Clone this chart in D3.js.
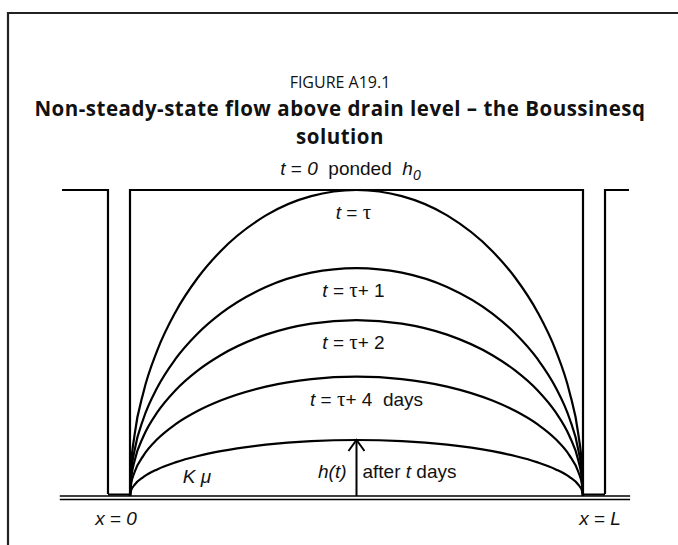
<!DOCTYPE html>
<html>
<head>
<meta charset="utf-8">
<script src="https://cdn.jsdelivr.net/npm/d3@7"></script>
<style>
  body { margin: 0; background: #fff; }
  svg text { white-space: pre; }
  .title { font-family: "Open Sans", "Noto Sans", sans-serif; fill: #111; }
  .lbl { font-family: "Liberation Sans", Arial, sans-serif; font-size: 19px; fill: #111; }
  .greek { font-family: "Liberation Serif", "DejaVu Serif", serif; font-size: 21px; }
</style>
</head>
<body>
<svg id="chart" width="678" height="545"></svg>
<script>
// water table shape between the drains (relative height vs relative distance)
const profileX = [0, 0.002, 0.01, 0.03, 0.06, 0.1, 0.15, 0.2, 0.3, 0.4, 0.5, 0.6, 0.7, 0.8, 0.85, 0.9, 0.94, 0.97, 0.99, 0.998, 1];
const profileH = [0, 0.089, 0.199, 0.341, 0.475, 0.6, 0.714, 0.8, 0.917, 0.98, 1, 0.98, 0.917, 0.8, 0.714, 0.6, 0.475, 0.341, 0.199, 0.089, 0];

// peak height of each curve as a fraction of the ponded depth h0
const curveNames = ['tau', 'tau1', 'tau2', 'tau4', 'tdays'];
const peakHeights = [1.0, 0.745, 0.575, 0.39, 0.183];

// curve labels: [segment, style] with style 1 = italic, 'g' = greek
const curveLabels = [
  [['t', 1], [' = ', 0], ['τ', 'g']],
  [['t', 1], [' = ', 0], ['τ', 'g'], ['+ 1', 0]],
  [['t', 1], [' = ', 0], ['τ', 'g'], ['+ 2', 0]],
  [['t', 1], [' = ', 0], ['τ', 'g'], ['+ 4  days', 0]],
  null
];

// drains and field edges in x/L units
const drainWalls = [-0.0486, 1.0486];
const fieldEnds = [-0.15, 1.1015];
const groundEnds = [-0.155, 1.104];

const svg = d3.select('#chart');

// frame
svg.append('path')
  .attr('d', 'M8,545 V13 H678')
  .attr('fill', 'none')
  .attr('stroke', '#222')
  .attr('stroke-width', 2.2);

// titles
svg.append('text').attr('class', 'title')
  .attr('x', 340).attr('y', 88)
  .attr('text-anchor', 'middle').attr('font-size', 16)
  .text('FIGURE A19.1');
svg.append('text').attr('class', 'title')
  .attr('x', 340).attr('y', 116)
  .attr('text-anchor', 'middle').attr('font-size', 20.5).attr('font-weight', 'bold')
  .attr('letter-spacing', 0.5)
  .text('Non-steady-state flow above drain level – the Boussinesq');
svg.append('text').attr('class', 'title')
  .attr('x', 340).attr('y', 144)
  .attr('text-anchor', 'middle').attr('font-size', 20.5).attr('font-weight', 'bold')
  .attr('letter-spacing', 0.5)
  .text('solution');

const x = d3.scaleLinear().domain([0, 1]).range([130, 583]);
const y = d3.scaleLinear().domain([0, 1]).range([496, 190]);

const g = svg.append('g').attr('stroke', '#000').attr('fill', 'none');

// ponded water surface and soil box
g.append('path')
  .attr('d', `M${x(0)},${y(0)} V${y(1)} H${x(1)} V${y(0)}`)
  .attr('stroke-width', 2.2);

// drain walls with field surface beyond
g.append('path')
  .attr('d', `M${x(fieldEnds[0])},${y(1)} H${x(drainWalls[0])} V${y(0) - 2}`)
  .attr('stroke-width', 2.2);
g.append('path')
  .attr('d', `M${x(fieldEnds[1])},${y(1)} H${x(drainWalls[1])} V${y(0) - 2}`)
  .attr('stroke-width', 2.2);

// drain bottoms
g.append('path')
  .attr('d', `M${x(drainWalls[0])},${y(0) - 1.5} H${x(0)} M${x(1)},${y(0) - 1.5} H${x(drainWalls[1])}`)
  .attr('stroke-width', 2);

// impermeable base: double line
g.append('path')
  .attr('d', `M${x(groundEnds[0])},${y(0)} H${x(groundEnds[1])} M${x(groundEnds[0])},${y(0) + 3.5} H${x(groundEnds[1])}`)
  .attr('stroke-width', 1.6);

// water table curves
const line = d3.line()
  .x(d => x(d[0]))
  .y(d => y(d[1]))
  .curve(d3.curveMonotoneX);

peakHeights.forEach((p, i) => {
  const pts = profileX.map((px, j) => [px, profileH[j] * p]);
  g.append('path')
    .attr('class', 'wt-' + curveNames[i])
    .attr('d', line(pts))
    .attr('stroke-width', 2.2);
});

// h(t) arrow up to the lowest curve
const last = peakHeights[peakHeights.length - 1];
g.append('path')
  .attr('d', `M${x(0.5)},${y(0)} V${y(last)}`)
  .attr('stroke-width', 2);
g.append('path')
  .attr('d', `M${x(0.5) - 8},${y(last) + 11} L${x(0.5)},${y(last)} L${x(0.5) + 8},${y(last) + 11}`)
  .attr('stroke-width', 2);

function richText(parent, xPos, yPos, parts, anchor) {
  const t = parent.append('text').attr('class', 'lbl')
    .attr('x', xPos).attr('y', yPos)
    .attr('text-anchor', anchor || 'middle');
  parts.forEach(p => {
    const s = t.append('tspan').text(p[0]);
    if (p[1] === 'g') s.attr('class', 'greek');
    else if (p[1]) s.attr('font-style', 'italic');
    if (p[2]) s.attr('font-size', 14).attr('dy', p[2]);
  });
  return t;
}

// curve labels sit ~30 px under each peak
curveLabels.forEach((parts, i) => {
  if (!parts) return;
  const lbl = richText(svg, x(0.5) - 3, y(peakHeights[i]) + 29, parts);
  if (i === 3) lbl.attr('text-anchor', 'start').attr('x', 310);
});

richText(svg, x(0.5) - 6, y(1) - 15,
  [['t', 1], [' = ', 0], ['0', 1], ['  ponded  ', 0], ['h', 1], ['0', 1, 5]]);
richText(svg, x(0.148), y(0) - 13, [['K μ', 1]]);
richText(svg, x(0.5) - 10, y(0) - 18, [['h(t)', 1]], 'end');
richText(svg, x(0.5) + 6, y(0) - 18, [['after ', 0], ['t', 1], [' days', 0]], 'start');
richText(svg, x(0) - 14, y(0) + 29, [['x', 1], [' = ', 0], ['0', 1]]);
richText(svg, x(1) + 17, y(0) + 29, [['x', 1], [' = ', 0], ['L', 1]]);
</script>
</body>
</html>
